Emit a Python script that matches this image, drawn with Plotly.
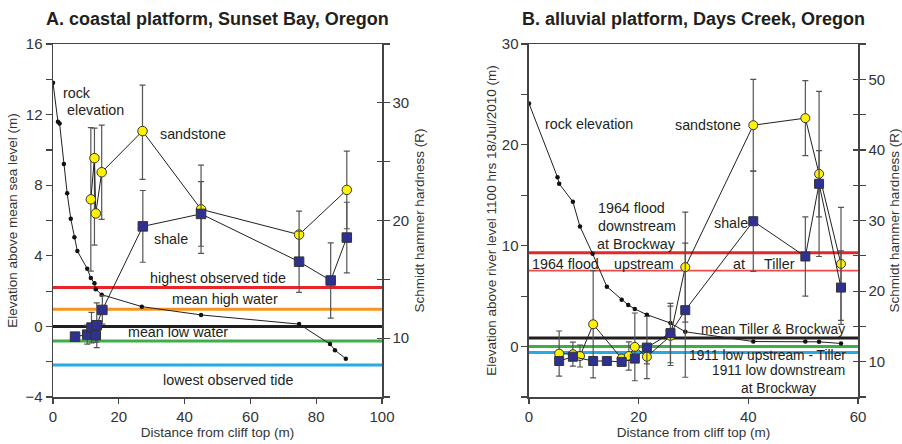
import plotly.graph_objects as go

# ---------------- Panel A: coastal platform, Sunset Bay ----------------
a_rock_x = [0, 1.5, 2.0, 3.3, 4.3, 5.4, 6.5, 7.4, 10.4, 11.5, 12.6, 13.0, 14.8, 27.0, 45.0, 74.8, 84.2, 85.7, 89.0]
a_rock_y = [13.8, 11.6, 11.5, 9.2, 7.55, 6.1, 5.05, 4.27, 3.27, 2.74, 2.44, 2.1, 1.8, 1.12, 0.65, 0.13, -1.0, -1.35, -1.83]

a_sand_x = [11.5, 12.6, 13.0, 14.8, 27.2, 45.0, 74.8, 89.3]
a_sand_r = [21.8, 25.3, 20.6, 24.1, 27.6, 20.95, 18.8, 22.6]
a_sand_ep = [6.1, 2.55, 0, 4.0, 3.9, 3.75, 2.0, 3.3]
a_sand_em = [6.1, 7.4, 0, 4.0, 4.1, 3.75, 2.0, 3.3]

a_shale_x = [6.7, 10.4, 11.7, 13.0, 13.3, 15.0, 27.3, 45.0, 74.8, 84.4, 89.3]
a_shale_r = [10.13, 10.3, 10.9, 10.25, 11.1, 12.4, 19.5, 20.56, 16.5, 14.9, 18.55]
a_shale_e = [0, 0.8, 1.3, 0.6, 1.9, 1.2, 3.05, 2.75, 2.6, 3.2, 3.0]

a_levels = [2.2, 0.97, 0.0, -0.83, -2.19]

# ---------------- Panel B: alluvial platform, Days Creek ----------------
b_rock_x = [0, 5.2, 5.5, 8.0, 9.3, 11.6, 14.2, 16.9, 18.1, 19.3, 21.5, 25.8, 28.5, 40.9, 50.4, 52.9, 56.9]
b_rock_y = [24.1, 16.8, 16.15, 14.36, 11.9, 9.2, 5.94, 4.65, 4.12, 3.73, 3.16, 2.33, 1.47, 0.5, 0.5, 0.47, 0.31]

b_sand_x = [5.5, 8.0, 9.3, 11.7, 16.9, 18.2, 19.3, 21.5, 25.8, 28.5, 40.9, 50.4, 52.9, 56.9]
b_sand_r = [11.15, 11.06, 10.8, 15.3, 10.44, 10.8, 12.1, 10.7, 13.66, 23.4, 43.5, 44.5, 36.6, 23.85]
b_sand_e = [3.2, 1.7, 1.55, 7.6, 0, 2.0, 4.8, 1.0, 4.2, 7.8, 6.5, 5.3, 11.7, 8.0]

b_shale_x = [5.5, 8.0, 11.7, 14.2, 16.9, 19.3, 21.5, 25.8, 28.5, 40.9, 50.4, 52.9, 56.9]
b_shale_r = [10.1, 10.7, 10.1, 10.1, 9.97, 10.44, 12.0, 14.05, 17.3, 29.9, 24.9, 35.2, 20.5]
b_shale_e = [0, 0, 0, 0, 0, 0, 4.4, 4.2, 9.5, 7.1, 5.6, 4.7, 5.2]

b_levels = [9.3, 7.53, 0.84, 0.0, -0.6]

# ---------------- styling ----------------
FONT = "Arial, Liberation Sans, Helvetica, sans-serif"
TXT = "#231f20"
AX = "#444444"
LINE = "#231f20"
YEL = "#fff200"
NAVY = "#2e3192"
ERR = "#555555"

a_colors = ["#e8262a", "#f7941d", "#231f20", "#3fae49", "#27aae1"]
a_widths = [3, 3, 3, 3, 3]
b_colors = ["#e8262a", "#ef4b4b", "#231f20", "#3fae49", "#27aae1"]
b_widths = [3, 1.6, 3, 3, 3]

fig = go.Figure()

def rock(x, y, yax, xax):
    fig.add_trace(go.Scatter(x=x, y=y, xaxis=xax, yaxis=yax, mode="lines+markers",
                             line=dict(color=LINE, width=1),
                             marker=dict(color="#111111", size=4.5), showlegend=False, hoverinfo="skip"))

def series(x, y, ep, em, yax, xax, symbol, color, size):
    fig.add_trace(go.Scatter(x=x, y=y, xaxis=xax, yaxis=yax, mode="lines+markers",
                             line=dict(color=LINE, width=1),
                             marker=dict(symbol=symbol, color=color, size=size,
                                         line=dict(color="#333333", width=1)),
                             error_y=dict(type="data", symmetric=False, array=ep, arrayminus=em,
                                          color=ERR, thickness=1.2, width=3),
                             showlegend=False, hoverinfo="skip"))

rock(a_rock_x, a_rock_y, "y", "x")
series(a_sand_x, a_sand_r, a_sand_ep, a_sand_em, "y2", "x", "circle", YEL, 9.5)
series(a_shale_x, a_shale_r, a_shale_e, a_shale_e, "y2", "x", "square", NAVY, 9.5)

rock(b_rock_x, b_rock_y, "y3", "x2")
series(b_sand_x, b_sand_r, b_sand_e, b_sand_e, "y4", "x2", "circle", YEL, 9)
series(b_shale_x, b_shale_r, b_shale_e, b_shale_e, "y4", "x2", "square", NAVY, 9)

# empty traces so that the inward tick axes are drawn
fig.add_trace(go.Scatter(x=[], y=[], xaxis="x", yaxis="y5", showlegend=False, hoverinfo="skip"))
fig.add_trace(go.Scatter(x=[], y=[], xaxis="x2", yaxis="y6", showlegend=False, hoverinfo="skip"))

shapes = []
for v, c, w in zip(a_levels, a_colors, a_widths):
    shapes.append(dict(type="line", xref="x domain", yref="y", x0=0, x1=1, y0=v, y1=v,
                       line=dict(color=c, width=w), layer="below"))
for v, c, w in zip(b_levels, b_colors, b_widths):
    shapes.append(dict(type="line", xref="x2 domain", yref="y3", x0=0, x1=1, y0=v, y1=v,
                       line=dict(color=c, width=w), layer="below"))

def ann(text, x, y, xref, yref, xanchor="left", size=14.3, bold=False):
    return dict(text=("<b>%s</b>" % text) if bold else text, x=x, y=y, xref=xref, yref=yref,
                xanchor=xanchor, yanchor="middle", showarrow=False,
                font=dict(family=FONT, size=size, color=TXT))

annotations = [
    ann("A. coastal platform, Sunset Bay, Oregon", 0.5, 1.07, "x domain", "paper", "center", 18, True),
    ann("B. alluvial platform, Days Creek, Oregon", 0.5, 1.07, "x2 domain", "paper", "center", 18, True),
    # panel A
    ann("rock", 2.43, 13.24, "x", "y"),
    ann("elevation", 3.65, 12.26, "x", "y"),
    ann("sandstone", 32.0, 10.9, "x", "y"),
    ann("shale", 30.0, 4.93, "x", "y"),
    ann("highest observed tide", 28.97, 2.73, "x", "y"),
    ann("mean high water", 35.56, 1.54, "x", "y"),
    ann("mean low water", 22.2, -0.33, "x", "y"),
    ann("lowest observed tide", 32.7, -3.04, "x", "y"),
    # panel B
    ann("rock elevation", 2.5, 22.1, "x2", "y3"),
    ann("sandstone", 39.08, 21.95, "x2", "y3", "right"),
    ann("shale", 33.3, 12.24, "x2", "y3"),
    ann("1964 flood", 18.73, 13.77, "x2", "y3", "center"),
    ann("downstream", 19.73, 12.0, "x2", "y3", "center"),
    ann("at Brockway", 19.57, 10.19, "x2", "y3", "center"),
    ann("1964 flood", 0.18, 8.2, "x2", "y3"),
    ann("upstream", 15.08, 8.2, "x2", "y3"),
    ann("at", 36.8, 8.2, "x2", "y3"),
    ann("Tiller", 42.44, 8.2, "x2", "y3"),
    ann("mean Tiller & Brockway", 31.0, 1.74, "x2", "y3", size=13.8),
    ann("1911 low upstream - Tiller", 28.8, -0.91, "x2", "y3", size=13.8),
    ann("1911 low downstream<br>at Brockway", 45.5, -3.3, "x2", "y3", "center", size=13.8),
]

tickfont = dict(family=FONT, size=15, color="#333333")
titlefont = dict(family=FONT, size=13.5, color="#333333")

def xax(domain, rng, anchor):
    return dict(domain=domain, range=rng, anchor=anchor, dtick=20, tick0=0, automargin=False,
                showline=True, linecolor=AX, linewidth=1.5, mirror=True,
                ticks="outside", ticklen=5, tickcolor=AX, tickwidth=1.2,
                showgrid=False, zeroline=False, tickfont=tickfont, fixedrange=True,
                title=dict(text="Distance from cliff top (m)", font=titlefont, standoff=4))

def yax(rng, dtick, minor, anchor, title, side="left", overlaying=None, tick0=0, standoff=6):
    d = dict(range=rng, anchor=anchor, side=side, dtick=dtick, tick0=tick0, automargin=False,
             showline=True, linecolor=AX, linewidth=1.5,
             ticks="outside", ticklen=6, tickcolor=AX, tickwidth=1.2,
             minor=dict(dtick=minor, tick0=tick0, ticks="outside", ticklen=6, tickcolor=AX, tickwidth=1.2),
             showgrid=False, zeroline=False, tickfont=tickfont, fixedrange=True,
             title=dict(text=title, font=titlefont, standoff=standoff))
    if overlaying:
        d["overlaying"] = overlaying
    return d

def inner_ticks(rng, dtick, minor, anchor, overlaying, tick0=10):
    # inward half of the crossing tick marks on the right-hand hardness axes
    return dict(range=rng, anchor=anchor, side="right", overlaying=overlaying, dtick=dtick, tick0=tick0,
                automargin=False, showline=False, showticklabels=False, fixedrange=True,
                ticks="inside", ticklen=5, tickcolor=AX, tickwidth=1.2,
                minor=dict(dtick=minor, tick0=tick0, ticks="inside", ticklen=5, tickcolor=AX, tickwidth=1.2),
                showgrid=False, zeroline=False)

fig.update_layout(
    width=902, height=444,
    margin=dict(l=53, r=44, t=44, b=47, autoexpand=False),
    paper_bgcolor="white", plot_bgcolor="white",
    font=dict(family=FONT, color=TXT),
    xaxis=xax([0, 0.4087], [0, 100], "y"),
    xaxis2=xax([0.5913, 1], [0, 60], "y3"),
    yaxis=yax([-4, 16], 4, 2, "x", "Elevation above mean sea level (m)", standoff=4),
    yaxis2=yax([5, 35], 10, 5, "x", "Schmidt hammer hardness (R)", side="right", overlaying="y", tick0=10),
    yaxis3=yax([-5, 30], 10, 5, "x2", "Elevation above river level 1100 hrs 18/Jul/2010 (m)", standoff=2),
    yaxis4=yax([5, 55], 10, 5, "x2", "Schmidt hammer hardness (R)", side="right", overlaying="y3", tick0=10),
    yaxis5=inner_ticks([5, 35], 10, 5, "x", "y"),
    yaxis6=inner_ticks([5, 55], 10, 5, "x2", "y3"),
    shapes=shapes,
    annotations=annotations,
)

fig.write_html("out.html", config={"displayModeBar": False, "staticPlot": True},
               post_script="document.body.style.margin='0';document.body.style.overflow='hidden';")
